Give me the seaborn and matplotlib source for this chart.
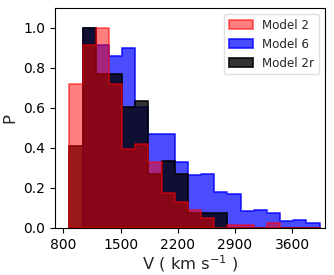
import numpy as np
import pandas as pd
import seaborn as sns
import matplotlib
matplotlib.use("Agg")
import matplotlib.pyplot as plt
from matplotlib.colors import to_rgba

# bin edges (km/s) and normalised bin heights
bin_edges = [874, 1035, 1196, 1357, 1518, 1679, 1840, 2001, 2163, 2324,
             2485, 2646, 2807, 2968, 3129, 3290, 3451, 3612, 3774, 3935]
model2 = [0.72, 0.915, 1.0, 0.72, 0.393, 0.42, 0.33, 0.173, 0.13, 0.09,
          0.048, 0.0, 0.013, 0.015, 0.0, 0.027, 0.0, 0.0, 0.0]
model6 = [0.0, 1.0, 0.915, 0.86, 0.9, 0.603, 0.47, 0.47, 0.33, 0.265,
          0.268, 0.18, 0.172, 0.085, 0.09, 0.073, 0.037, 0.042, 0.027]
model2r = [0.41, 1.0, 0.77, 0.77, 0.603, 0.637, 0.27, 0.337, 0.27, 0.073,
           0.073, 0.073, 0.0, 0.0, 0.0, 0.0, 0.0, 0.0, 0.0]
xticks = [800, 1500, 2200, 2900, 3600]
yticks = [0.0, 0.2, 0.4, 0.6, 0.8, 1.0]

sns.set_style("ticks")
plt.rcParams['font.family'] = ['DejaVu Sans']

edges = np.array(bin_edges, dtype=float)
centers = (edges[:-1] + edges[1:]) / 2

fig = plt.figure(figsize=(3.34, 2.75), dpi=100)
ax = fig.add_axes([0.165, 0.171, 0.808, 0.8])

# draw order: blue, black, red (red sits on top)
series = [
    ("Model 6", model6, "blue", 0.7),
    ("Model 2r", model2r, "black", 0.8),
    ("Model 2", model2, "red", 0.5),
]
for label, vals, col, a in series:
    df = pd.DataFrame({"v": centers, "p": vals})
    sns.histplot(data=df, x="v", weights="p", bins=list(edges), element="step",
                 fill=True, color=col, alpha=a, ax=ax, label=label,
                 edgecolor=to_rgba(col, a), linewidth=1.4)

h, l = ax.get_legend_handles_labels()
order = [l.index("Model 2"), l.index("Model 6"), l.index("Model 2r")]
ax.legend([h[i] for i in order], [l[i] for i in order], loc="upper right",
          fontsize=8.6, frameon=True, edgecolor="0.85")

ax.set_xlim(700, 4000)
ax.set_ylim(0, 1.1)
ax.set_xticks(xticks)
ax.set_yticks(yticks)
ax.tick_params(labelsize=10, colors="black")
ax.set_xlabel("V ( km s$^{-1}$ )", fontsize=11.8, labelpad=1)
ax.set_ylabel("P", fontsize=11.8)
for s in ax.spines.values():
    s.set_color("black")

fig.savefig("out.png", dpi=100)
